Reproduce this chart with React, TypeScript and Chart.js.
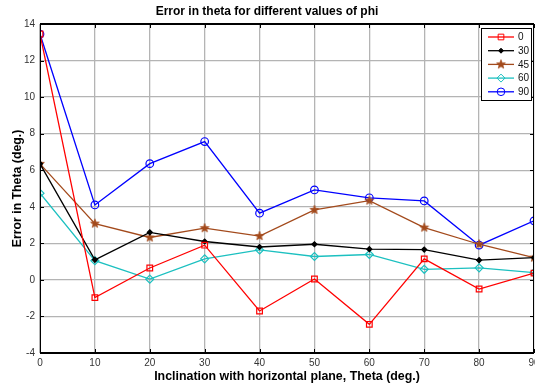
import React, { useEffect, useRef } from "react";
import { Chart, registerables } from "chart.js";
import { drawPoint } from "chart.js/helpers";

Chart.register(...registerables);

const thetaDeg = [0, 10, 20, 30, 40, 50, 60, 70, 80, 90];
const phi0 = [13.45, -0.97, 0.65, 1.9, -1.7, 0.05, -2.43, 1.15, -0.5, 0.37];
const phi30 = [6.35, 1.1, 2.6, 2.1, 1.8, 1.95, 1.68, 1.66, 1.08, 1.22];
const phi45 = [6.35, 3.08, 2.32, 2.83, 2.4, 3.83, 4.34, 2.86, 1.95, 1.22];
const phi60 = [4.74, 1.05, 0.04, 1.15, 1.64, 1.28, 1.39, 0.58, 0.66, 0.4];
const phi90 = [13.45, 4.1, 6.36, 7.57, 3.65, 4.92, 4.49, 4.32, 1.9, 3.23];
const seriesLabels = ["0", "30", "45", "60", "90"];
const xTicks = [0, 10, 20, 30, 40, 50, 60, 70, 80, 90];
const yTicks = [-4, -2, 0, 2, 4, 6, 8, 10, 12, 14];

const FONT = "'Liberation Sans', Arial, Helvetica, sans-serif";

function makeStar(color: string, r: number): HTMLCanvasElement {
  const size = Math.ceil(r * 2 + 2);
  const c = document.createElement("canvas");
  c.width = size;
  c.height = size;
  const ctx = c.getContext("2d")!;
  const cx = size / 2, cy = size / 2;
  ctx.beginPath();
  for (let i = 0; i < 10; i++) {
    const rad = i % 2 === 0 ? r : r * 0.42;
    const a = -Math.PI / 2 + (i * Math.PI) / 5;
    const px = cx + rad * Math.cos(a);
    const py = cy + rad * Math.sin(a);
    if (i === 0) ctx.moveTo(px, py);
    else ctx.lineTo(px, py);
  }
  ctx.closePath();
  ctx.fillStyle = color;
  ctx.fill();
  ctx.strokeStyle = color;
  ctx.lineWidth = 0.8;
  ctx.stroke();
  return c;
}

const frameAndTicks = {
  id: "frameAndTicks",
  afterDatasetsDraw(chart: any) {
    const { ctx, chartArea: a, scales } = chart;
    ctx.save();
    ctx.strokeStyle = "#000";
    ctx.lineWidth = 1;
    xTicks.forEach((v) => {
      const x = Math.round(scales.x.getPixelForValue(v)) + 0.5;
      ctx.beginPath();
      ctx.moveTo(x, a.bottom);
      ctx.lineTo(x, a.bottom - 4);
      ctx.moveTo(x, a.top);
      ctx.lineTo(x, a.top + 4);
      ctx.stroke();
    });
    yTicks.forEach((v) => {
      const y = Math.round(scales.y.getPixelForValue(v)) + 0.5;
      ctx.beginPath();
      ctx.moveTo(a.left, y);
      ctx.lineTo(a.left + 4, y);
      ctx.moveTo(a.right, y);
      ctx.lineTo(a.right - 4, y);
      ctx.stroke();
    });
    ctx.lineWidth = 1;
    ctx.beginPath();
    ctx.moveTo(a.left + 0.5, a.top);
    ctx.lineTo(a.left + 0.5, a.bottom);
    ctx.moveTo(a.right - 0.5, a.top);
    ctx.lineTo(a.right - 0.5, a.bottom);
    ctx.stroke();
    ctx.lineWidth = 2;
    ctx.beginPath();
    ctx.moveTo(a.left, a.top);
    ctx.lineTo(a.right, a.top);
    ctx.moveTo(a.left, a.bottom);
    ctx.lineTo(a.right, a.bottom);
    ctx.stroke();
    ctx.restore();
  },
};

const boxLegend = {
  id: "boxLegend",
  afterDraw(chart: any) {
    const { ctx, chartArea: a } = chart;
    const right = a.right - 3;
    const left = right - 50;
    const top = a.top + 4;
    const h = 72;
    ctx.save();
    ctx.fillStyle = "#fff";
    ctx.fillRect(left, top, 50, h);
    ctx.strokeStyle = "#000";
    ctx.lineWidth = 1;
    ctx.strokeRect(left + 0.5, top + 0.5, 50, h);
    chart.data.datasets.forEach((ds: any, i: number) => {
      const y = top + 9 + i * 13.7;
      ctx.strokeStyle = ds.borderColor;
      ctx.lineWidth = ds.borderWidth;
      ctx.beginPath();
      ctx.moveTo(left + 7, y);
      ctx.lineTo(left + 33, y);
      ctx.stroke();
      ctx.fillStyle = ds.pointBackgroundColor;
      ctx.strokeStyle = ds.borderColor;
      ctx.lineWidth = 1;
      drawPoint(ctx, { pointStyle: ds.pointStyle, radius: ds.pointRadius, borderWidth: 1, rotation: 0 } as any, left + 20, y);
      ctx.fillStyle = "#111";
      ctx.font = `10px ${FONT}`;
      ctx.textAlign = "left";
      ctx.textBaseline = "middle";
      ctx.fillText(ds.label, left + 37, y + 0.5);
    });
    ctx.restore();
  },
};

export default function App() {
  const ref = useRef<HTMLCanvasElement | null>(null);
  useEffect(() => {
    document.body.style.margin = "0";
    if (!ref.current) return;
    const star = makeStar("#a34a1c", 4.6);
    const mk = (label: string, data: number[], color: string, style: any, radius: number, fill: string) => ({
      label,
      data: data.map((y, i) => ({ x: thetaDeg[i], y })),
      borderColor: color,
      backgroundColor: color,
      borderWidth: 1.3,
      pointStyle: style,
      pointRadius: radius,
      pointBorderWidth: 1.2,
      pointBackgroundColor: fill,
      pointBorderColor: color,
      tension: 0,
    });
    const chart = new Chart(ref.current, {
      type: "line",
      data: {
        datasets: [
          mk(seriesLabels[0], phi0, "#ff0000", "rect", 4, "rgba(0,0,0,0)"),
          mk(seriesLabels[1], phi30, "#000000", "rectRot", 2.5, "#000000"),
          mk(seriesLabels[2], phi45, "#a34a1c", star, 4.5, "#a34a1c"),
          mk(seriesLabels[3], phi60, "#1cc0c0", "rectRot", 4, "rgba(0,0,0,0)"),
          mk(seriesLabels[4], phi90, "#0000ff", "circle", 3.8, "rgba(0,0,0,0)"),
        ],
      },
      options: {
        responsive: false,
        animation: false,
        devicePixelRatio: 1,
        layout: { autoPadding: false, padding: { left: 0, right: 1, top: 0, bottom: 0 } },
        plugins: {
          legend: { display: false },
          tooltip: { enabled: false },
          title: {
            display: true,
            text: "Error in theta for different values of phi",
            color: "#000",
            font: { family: FONT, size: 12, weight: "bold" },
            padding: { top: 4, bottom: 5.6 },
          },
        },
        scales: {
          x: {
            type: "linear",
            min: 0,
            max: 90,
            afterBuildTicks: (s: any) => {
              s.ticks = xTicks.map((v) => ({ value: v }));
            },
            afterFit: (s: any) => {
              s.height = 32;
              s.paddingLeft = 0;
              s.paddingRight = 0;
            },
            grid: { color: "#b4b4b4", lineWidth: 1.3, drawTicks: false },
            border: { display: false },
            ticks: { color: "#333", font: { family: FONT, size: 10 }, padding: 4, maxRotation: 0 },
            title: {
              display: true,
              text: "Inclination with horizontal plane, Theta (deg.)",
              color: "#000",
              font: { family: FONT, size: 12.4, weight: "bold" },
              padding: { top: 0, bottom: 1 },
            },
          },
          y: {
            type: "linear",
            min: -4,
            max: 14,
            afterBuildTicks: (s: any) => {
              s.ticks = yTicks.map((v) => ({ value: v }));
            },
            afterFit: (s: any) => {
              s.width = 40;
              s.paddingTop = 0;
              s.paddingBottom = 0;
            },
            grid: { color: "#b4b4b4", lineWidth: 1.3, drawTicks: false },
            border: { display: false },
            ticks: { color: "#333", font: { family: FONT, size: 10 }, padding: 5 },
            title: {
              display: true,
              text: "Error in Theta (deg.)",
              color: "#000",
              font: { family: FONT, size: 12.3, weight: "bold" },
              padding: { top: 10, bottom: 0 },
            },
          },
        },
      },
      plugins: [frameAndTicks, boxLegend],
    } as any);
    return () => chart.destroy();
  }, []);
  return (
    <div style={{ width: 535, height: 385 }}>
      <canvas ref={ref} width={535} height={385} />
    </div>
  );
}
